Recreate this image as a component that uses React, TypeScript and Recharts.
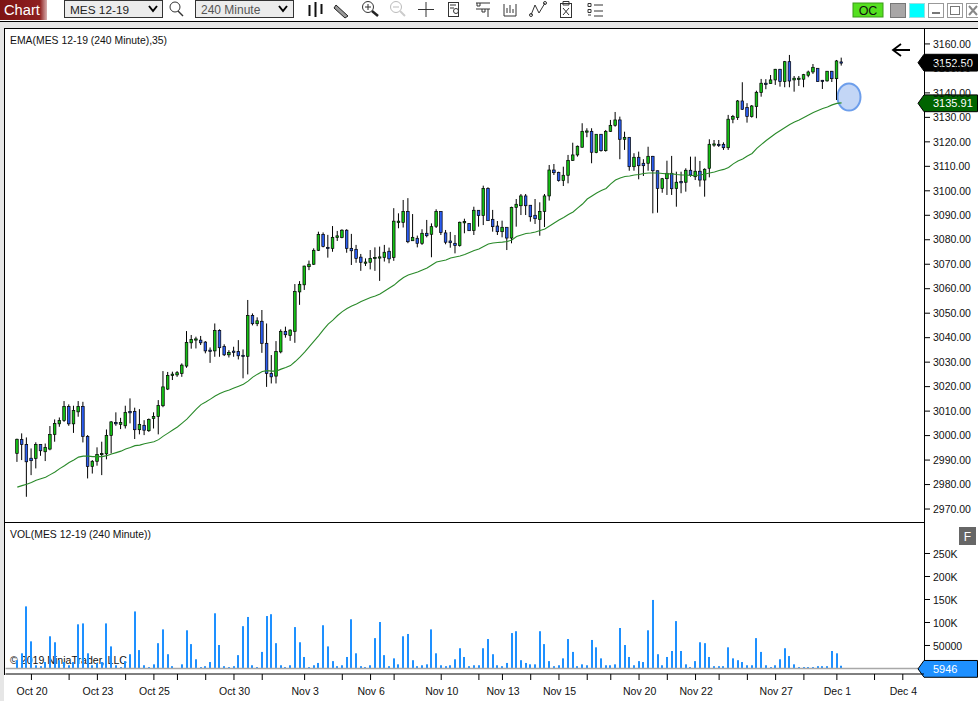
import React from "react";
import { ComposedChart, Bar, Line, XAxis, YAxis, ReferenceLine } from "recharts";

const highs = [
2998.75,3000.9,2999.25,2994.75,2997.25,2996.4,2996.75,3003.9,3006.6,3007.4,
3014.1,3012.75,3012.2,3014.1,3013.8,3000.2,2990,2995.2,2997.5,3002.5,
3005.9,3009.5,3007.25,3012.2,3015.2,3011.4,3010.8,3006.3,3007,3009.5,
3014.5,3026.35,3026,3026.1,3026.35,3029.5,3042.7,3041.1,3040.4,3040.7,
3038.6,3036,3045.8,3043.4,3037.3,3034.9,3036.3,3039,3035.2,3055.4,
3049.9,3048.3,3051.3,3045.8,3032.9,3038.6,3043.4,3044.5,3043.4,3061.9,
3063.1,3069.4,3071.5,3076.5,3083.3,3083,3082,3085.6,3083.6,3084.3,
3084.3,3082.4,3077.9,3074.2,3072.4,3075.8,3076.9,3077.2,3077.9,3076.8,
3092.9,3090.8,3096.25,3097,3090.5,3081.7,3084.3,3088.1,3086.7,3092.45,
3091.6,3084,3083.2,3081.95,3087.4,3088.6,3086.7,3093.5,3092.05,3102.1,
3101.45,3092.2,3087.65,3087.8,3085.1,3093.5,3096.65,3098.7,3098.7,3094.1,
3096.65,3095.3,3098.7,3110.55,3110.95,3107.8,3109.85,3114.65,3119.65,3118.5,
3127.6,3125.55,3125.55,3123.1,3123.1,3124.85,3128.95,3132.2,3130.3,3124.15,
3121.85,3115.35,3116,3112.9,3118,3114.25,3108.2,3105.25,3112.3,3114.25,
3107.8,3107.8,3109.2,3113.95,3113.95,3112.2,3109.2,3121.05,3120.75,3120.75,
3119.8,3131,3131,3137.1,3144.35,3135.8,3135.05,3140.9,3145.7,3145.6,
3147.3,3149.8,3149.8,3153.05,3155.5,3146.9,3146.9,3147.75,3149.1,3151.8,
3150.05,3145.3,3148.95,3148.95,3153.45,3154.4];

const lows = [
2989.25,2990,2975,2983.85,2986.6,2991.75,2989.6,2994,2997.5,3003.6,
3005.6,3004,3001.1,3007.7,2997.2,2982.5,2984.5,2987.7,2983.85,2990.3,
2992.7,3004,3002.65,3002.9,3005,2998.6,3000.5,3000.2,3001.5,3002.9,
3000.5,3011.6,3018.6,3022.7,3024,3024,3027.7,3035.5,3035.6,3037,
3033.6,3029.7,3032.2,3032.2,3032.5,3031.9,3032.2,3031.1,3023.4,3025,
3045,3044.7,3033.8,3019.9,3021.3,3021.3,3033.6,3040,3038.7,3037.9,
3053.4,3059.5,3067.6,3069.7,3075.4,3076.9,3072.7,3075.1,3079.5,3080.6,
3074.7,3069.7,3070.6,3067.3,3069.3,3067.9,3067.3,3063.2,3071.1,3070.4,
3071.4,3084.7,3085,3078.6,3079.6,3076.9,3077.9,3081,3072.85,3084.8,
3081.95,3078.15,3076.75,3074.45,3077.2,3082.65,3083.6,3081.95,3085.35,3086,
3087.8,3083.3,3081.95,3081,3075.8,3078.55,3085.35,3090.1,3090.1,3087.4,
3086.45,3081.65,3085.2,3096,3106.45,3103.75,3101.95,3103.05,3112.2,3113.95,
3117.65,3121.9,3111.25,3115.35,3116,3116,3124.05,3126.2,3112.9,3116.7,
3108.2,3108.2,3104.7,3106.05,3108.2,3090.8,3091.05,3099.2,3098.3,3098.3,
3093.5,3099,3099.65,3105.75,3104.4,3101.7,3097.6,3105.5,3118,3117.9,
3116.7,3116.7,3127.6,3128.95,3133.05,3127.85,3129.9,3129.65,3138.45,3141.5,
3143.8,3143.25,3142.55,3142.3,3142.3,3140.5,3142.85,3142.3,3146.4,3147.75,
3144.6,3141.6,3144.6,3144.45,3137.1,3151.15];

const opens = [
2992.75,2998.4,2996.4,2990.75,2990.7,2996.4,2993.4,2994.5,3000.5,3004.8,
3006.2,3011.9,3004.8,3009.7,3011.9,2999.7,2987.4,2989.5,2992.4,2992.55,
3000.1,3005.4,3004.6,3004,3009.9,3009.9,3002.4,3004.2,3002,3007,
3007.8,3012.2,3019,3024.6,3024.8,3025.4,3028.4,3037.9,3039.3,3039,
3038.2,3034.9,3034.6,3043,3036.4,3033,3034.5,3034.4,3032.8,3032.4,
3049.1,3045.7,3046.7,3037.7,3025.4,3024.3,3034.2,3042.6,3040.9,3042.6,
3058.7,3061.6,3069,3070,3075.7,3082.2,3076.9,3076.5,3080.9,3080.9,
3083.9,3076.5,3076.1,3072.9,3070.5,3070.8,3072.3,3072.7,3072.7,3075.3,
3072.8,3087,3087.1,3091.6,3079.6,3080.6,3078.55,3082.65,3082.25,3085.5,
3091.6,3082.8,3079.5,3078.55,3077.6,3087,3086.7,3083.85,3092.05,3089.85,
3101,3088.35,3085.6,3083.3,3085.1,3080.7,3093.25,3093.9,3097.9,3094.1,
3090,3088.35,3091.6,3097.9,3108.5,3107.55,3104.15,3106.35,3112.45,3114.65,
3117.8,3124.05,3124.3,3115.6,3123.1,3116.4,3124.3,3126.75,3128.95,3121.05,
3121.85,3109.85,3113.7,3111.25,3111.25,3114.1,3108.2,3101,3104.95,3107.15,
3101,3103.75,3103.5,3108.4,3105.75,3108,3104.4,3109.2,3118.75,3119,
3119,3117.6,3129.25,3129.9,3136.7,3134,3130.3,3134.4,3140.1,3143.95,
3143.8,3145.3,3149.65,3144.6,3152.75,3145.3,3145.6,3145.6,3147.2,3148.55,
3150.05,3145.15,3144.9,3148.85,3145.8,3152.65];

const closes = [
2998.5,2996.4,2989.3,2989.75,2996.4,2993.8,2995.2,3000.5,3005,3006.2,
3011.9,3004.8,3010.3,3011.9,2999.7,2987.4,2989.5,2992.3,2992.7,3000.1,
3005.6,3004.8,3005.4,3009.5,3009.3,3002.4,3004.6,3002.2,3006.6,3007.8,
3012.3,3019.9,3024.6,3025.1,3025.7,3028.8,3038.1,3039.3,3039.5,3037.9,
3034.6,3034.5,3043,3035.9,3033,3034,3034.2,3032.6,3032.4,3049.1,
3045.7,3046.9,3037.7,3025.4,3024,3034.4,3042.6,3041.2,3043.1,3058.9,
3061.8,3069.25,3070,3075.7,3082.2,3077.3,3076.4,3081,3081.6,3083.9,
3076.5,3075.5,3072.4,3070.8,3070.9,3072.4,3072.8,3073,3074.9,3072.2,
3087.6,3087.6,3091.6,3079.2,3081,3078.55,3082.65,3081.65,3085.35,3091.6,
3083,3079,3078.8,3077.6,3087.15,3087.4,3083.7,3092.05,3089.85,3101,
3087.8,3085.35,3083.3,3085.1,3080.7,3093.25,3094.5,3097.9,3093.9,3089.4,
3088.6,3091.6,3097.9,3108.5,3107.4,3104.15,3106.35,3112.45,3114.65,3118.2,
3124.3,3124.45,3115.75,3123.1,3116.4,3124.3,3126.75,3128.95,3121.05,3121.85,
3109.85,3113.7,3110.25,3110.25,3114.1,3108.2,3101,3104.95,3107.15,3100.85,
3103.5,3103.3,3108.4,3106.45,3108,3104.4,3108.8,3119,3119.15,3118.45,
3117.6,3129.25,3130.3,3136.7,3133.3,3130.3,3134.65,3140.25,3143.95,3143.55,
3145.3,3149.65,3144.6,3152.75,3144.85,3146,3146,3147.45,3148.55,3150.45,
3144.6,3144.75,3148.85,3145.8,3153.05,3152.5];

const emaValues = [
2978.95,2979.55,2980.15,2980.8,2981.8,2982.4,2983,2984.05,2985.1,2986.5,
2987.7,2989,2990,2991.2,2991.6,2991.6,2991.4,2991.4,2991.4,2991.8,
2992.45,2993.05,2993.65,2994.5,2995.1,2995.9,2996.1,2996.7,2997.1,2997.5,
2998.35,2999.8,3001,3002.25,3003.5,3005.1,3006.75,3008.8,3010.8,3012.65,
3013.7,3014.9,3016.15,3017.15,3018,3018.6,3019.4,3020.2,3021,3022.25,
3023.9,3025.1,3026.15,3026.55,3026.35,3026.35,3027.15,3027.8,3028.6,3030.25,
3032.05,3034.1,3036.35,3038.6,3040.85,3043.3,3045.55,3047.2,3049.05,3050.65,
3051.9,3052.9,3053.75,3054.75,3055.6,3056.4,3057,3057.85,3059.05,3060.3,
3061.5,3063.15,3064.6,3065.6,3066.2,3066.8,3067.65,3068.45,3069.7,3070.9,
3071.3,3071.7,3072.55,3072.95,3073.35,3073.95,3074.8,3075.6,3076.2,3077.25,
3078.25,3078.65,3078.85,3079.05,3079.3,3079.9,3081.3,3081.95,3082.55,3082.75,
3083.15,3083.8,3084.4,3085.6,3086.85,3088.1,3089.1,3090.3,3091.35,3093,
3094.6,3096.65,3097.9,3099.1,3100.1,3100.95,3102.8,3104.4,3105.25,3105.85,
3106.05,3106.45,3106.65,3107.1,3107.3,3107.3,3107.3,3107.1,3106.9,3106.9,
3106.65,3106.45,3106.45,3106.25,3106.25,3106.45,3106.9,3107.3,3107.7,3108.3,
3108.75,3109.55,3111,3112.2,3113,3114.25,3115.25,3117.3,3118.95,3120.55,
3122,3123.4,3124.65,3125.85,3127.1,3128.1,3128.95,3129.95,3131,3132,
3132.85,3133.65,3134.25,3135.1,3135.7,3135.91];

const volumes = [
18000,33000,135000,59000,7000,5000,14000,70000,57000,18000,
14000,7000,14000,96000,98000,33000,7000,12000,14000,98000,
48000,7000,3000,16000,31000,124000,40000,7000,3000,9000,
55000,85000,31000,5000,1000,9000,83000,53000,20000,3000,
5000,14000,120000,51000,5000,3000,5000,29000,92000,112000,
7000,3000,36000,114000,118000,55000,7000,3000,7000,90000,
57000,25000,3000,7000,12000,94000,48000,16000,5000,7000,
25000,107000,33000,5000,3000,7000,66000,101000,29000,5000,
22000,9000,70000,75000,18000,5000,7000,9000,85000,33000,
7000,5000,7000,20000,44000,25000,5000,7000,7000,44000,
64000,31000,7000,5000,12000,77000,81000,18000,12000,9000,
9000,81000,53000,16000,5000,7000,22000,64000,36000,5000,
9000,7000,62000,46000,22000,7000,7000,9000,88000,51000,
25000,7000,16000,14000,83000,149000,31000,7000,25000,38000,
103000,38000,9000,3000,16000,57000,55000,25000,5000,5000,
5000,46000,22000,18000,14000,7000,7000,66000,36000,7000,
3000,7000,20000,44000,27000,9000,3000,3000,3000,3000,
5000,5000,5000,38000,33000,5946];

const priceTicks = [2970,2980,2990,3000,3010,3020,3030,3040,3050,3060,3070,3080,3090,3100,3110,3120,3130,3140,3150,3160];
const volumeTicks = [50000,100000,150000,200000,250000];
const volumeTickLabels = ["50000","100K","150K","200K","250K"];
// position on the time axis -> text (empty text = minor mark)
const timeTickSlots = [5,13,19,25,31,36,42,48,54,63,71,77,82,92,100,105,111,117,123,128,134,140,146,151,157,163,169,176,184,190];
const timeTickLabels = ["Oct 20","","Oct 23","","Oct 25","","","Oct 30","","Nov 3","","Nov 6","","Nov 10","","Nov 13","","Nov 15","","","Nov 20","","Nov 22","","","Nov 27","","Dec 1","","Dec 4"];

const LEAD = 2;
const TRAIL = 17;
const rows = Array.from({ length: LEAD + highs.length + TRAIL }, (_, slot) => {
  const i = slot - LEAD;
  if (i < 0 || i >= highs.length) return { slot };
  return {
    slot,
    open: opens[i],
    high: highs[i],
    low: lows[i],
    close: closes[i],
    range: [lows[i], highs[i]],
    ema: emaValues[i],
    vol: volumes[i],
  };
});

const FONT = '"Liberation Sans", Arial, sans-serif';
const GREEN = "#14c014";
const BLUE = "#2a5cf0";
const VOL = "#1e90ff";
const PLOT_LEFT = 5.53;
const AXIS_W = 54;

function Candle(props: any) {
  const { x, y, width, height, payload } = props;
  if (!payload || payload.high == null || !height) return null;
  const { open, close, high, low } = payload;
  const c = x + width / 2;
  const perUnit = height / (high - low);
  const top = y + (high - Math.max(open, close)) * perUnit;
  const bot = y + (high - Math.min(open, close)) * perUnit;
  return (
    <g>
      <line x1={c} x2={c} y1={y} y2={y + height} stroke="#000" strokeWidth={1} />
      <rect
        x={c - 1.3}
        y={top}
        width={2.6}
        height={Math.max(bot - top, 1.2)}
        fill={close >= open ? GREEN : BLUE}
        stroke="#000"
        strokeWidth={0.7}
      />
    </g>
  );
}

function VolumeBar(props: any) {
  const { x, y, height, fill } = props;
  if (!height || height <= 0) return null;
  return <rect x={Math.round(x)} y={y} width={2} height={height} fill={fill} />;
}

function Flag(props: any) {
  const { viewBox, text, fill } = props;
  const y = viewBox.y + 0.4;
  const h = 8.4;
  return (
    <g>
      <polygon
        points={`918,${y} 924,${y - h} 977.5,${y - h} 977.5,${y + h} 924,${y + h}`}
        fill={fill}
        stroke="#000"
        strokeWidth={1}
      />
      <text x={933} y={y + 4} fontSize={11} fontFamily={FONT} fill="#fff">
        {text}
      </text>
    </g>
  );
}

function Chrome() {
  const s = { stroke: "#333", strokeWidth: 1, fill: "none" };
  return (
    <svg width={978} height={701} style={{ position: "absolute", left: 0, top: 0 }}>
      <defs>
        <linearGradient id="chartBtn" x1="0" x2="1" y1="0" y2="0">
          <stop offset="0" stopColor="#7d1414" />
          <stop offset="0.85" stopColor="#8e2020" />
          <stop offset="1" stopColor="#d9b0b0" />
        </linearGradient>
      </defs>
      {/* gutters */}
      <rect x={0} y={22} width={978} height={6} fill="#e6e6e6" />
      <rect x={0} y={22} width={4} height={679} fill="#e6e6e6" />
      <line x1={0} x2={978} y1={21.5} y2={21.5} stroke="#000" />
      <line x1={4} x2={978} y1={28.5} y2={28.5} stroke="#000" />
      <line x1={4.5} x2={4.5} y1={28} y2={675} stroke="#000" />
      <line x1={4} x2={925} y1={522.5} y2={522.5} stroke="#000" />
      <line x1={924.5} x2={924.5} y1={28} y2={675} stroke="#000" />

      {/* title button */}
      <rect x={0} y={0} width={47} height={20} fill="url(#chartBtn)" />
      <text x={4} y={15} fontSize={14.7} fontFamily={FONT} fill="#fff">Chart</text>

      {/* dropdowns */}
      <rect x={64.5} y={0.5} width={98} height={17} fill="#ececec" stroke="#333" />
      <text x={70} y={13.5} fontSize={11.8} fontFamily={FONT} fill="#222">MES 12-19</text>
      <path d="M149 6 L153 11 L157 6" fill="none" stroke="#000" strokeWidth={2} />
      <rect x={195.5} y={0.5} width={98} height={17} fill="#ececec" stroke="#333" />
      <text x={201} y={13.5} fontSize={12} fontFamily={FONT} fill="#555">240 Minute</text>
      <path d="M279 6 L283 11 L287 6" fill="none" stroke="#000" strokeWidth={2} />

      {/* toolbar icons */}
      <circle cx={175} cy={7} r={5} {...s} />
      <line x1={178} y1={11} x2={183} y2={16} stroke="#333" strokeWidth={1.4} />
      <g stroke="#111" strokeWidth={2}>
        <line x1={309.5} x2={309.5} y1={5} y2={16} />
        <line x1={315.5} x2={315.5} y1={2} y2={17} />
        <line x1={321.5} x2={321.5} y1={4} y2={14} />
      </g>
      <path d="M336 5 L348 16 L345 18 L334 8 Z" fill="#999" stroke="#222" />
      <circle cx={368} cy={7} r={5.5} {...s} />
      <path d="M365 7 H371 M368 4 V10" stroke="#333" />
      <line x1={372} y1={11} x2={378} y2={16} stroke="#222" strokeWidth={2.5} />
      <circle cx={396} cy={7} r={5.5} fill="none" stroke="#bbb" />
      <path d="M393 7 H399" stroke="#bbb" />
      <line x1={400} y1={11} x2={405} y2={16} stroke="#ccc" strokeWidth={2} />
      <path d="M426 2 V17 M418 9.5 H434" stroke="#333" />
      <rect x={448.5} y={2.5} width={10} height={14} {...s} />
      <circle cx={456} cy={11} r={2.5} {...s} />
      <path d="M450 5 H456 M450 8 H454" stroke="#333" />
      <path d="M476 3 H490 M476 9 H490 M477 3 V6 H480 V3 M482 9 V12 H485 V9 M488 9 V17" {...s} />
      <path d="M504 4 V16 H516 V4 M507 13 V8 M510 13 V5 M513 13 V9" {...s} />
      <path d="M531 15 L535 5 L539 13 L545 3" {...s} />
      <circle cx={531} cy={15} r={1.5} {...s} />
      <circle cx={545} cy={3} r={1.5} {...s} />
      <rect x={560.5} y={3.5} width={11} height={14} {...s} />
      <path d="M563 1.5 H569 V5 H563 Z M563 8 L569 15 M569 8 L563 15" {...s} />
      <path d="M588 3.5 h3 v3 h-3 z M588 9.5 h3 v3 h-3 z M588 15 h3 M594 5 H603 M594 11 H603 M594 16 H603" {...s} />

      {/* right toolbar */}
      <rect x={853} y={3} width={30} height={14} fill="#55e020" stroke="#3b9a18" />
      <text x={868} y={14.5} textAnchor="middle" fontSize={12.5} fontFamily={FONT} fill="#111">OC</text>
      <rect x={890.5} y={3.5} width={15} height={14} fill="#a8a6a6" stroke="#777" />
      <rect x={909.5} y={3.5} width={15} height={14} fill="#00ffff" stroke="#9adfe0" />
      <rect x={928.5} y={3.5} width={15} height={14} fill="#fff" stroke="#999" />
      <line x1={932} x2={940} y1={13} y2={13} stroke="#777" strokeWidth={2} />
      <rect x={947.5} y={3.5} width={15} height={14} fill="#fff" stroke="#999" />
      <rect x={950.5} y={6.5} width={9} height={8} fill="none" stroke="#777" />
      <rect x={966.5} y={3.5} width={12} height={14} fill="#fff" stroke="#999" />
      <path d="M969 6 L977 15 M977 6 L969 15" stroke="#888" strokeWidth={2} />

      {/* pane texts */}
      <text x={10} y={44} fontSize={10.4} fontFamily={FONT} fill="#111">EMA(MES 12-19 (240 Minute),35)</text>
      <text x={10} y={538} fontSize={10.4} fontFamily={FONT} fill="#111">VOL(MES 12-19 (240 Minute))</text>
      <text x={10} y={664} fontSize={10.6} fontFamily={FONT} fill="#111">© 2019 NinjaTrader, LLC</text>

      {/* drawn annotations */}
      <path d="M893 50 H910 M901 44 L893 50 L901 56" fill="none" stroke="#000" strokeWidth={1.8} />
      <ellipse cx={849} cy={97} rx={11.5} ry={13.5} fill="#c3d6f6" stroke="#6d9eeb" strokeWidth={2} />

      {/* F button */}
      <rect x={959} y={527} width={17} height={18} fill="#666" />
      <text x={967.5} y={540.5} textAnchor="middle" fontSize={12} fontFamily={FONT} fill="#fff">F</text>
    </svg>
  );
}

export default function App() {
  const axisTick = { fontSize: 10.5, fontFamily: FONT, fill: "#111" };
  return (
    <div style={{ position: "absolute", left: 0, top: 0, width: 978, height: 701, background: "#fff", overflow: "hidden" }}>
      <Chrome />
      <div style={{ position: "absolute", left: 0, top: 0 }}>
        <ComposedChart
          width={978}
          height={523}
          data={rows}
          margin={{ top: 29, right: 0, bottom: 1, left: PLOT_LEFT }}
          barCategoryGap={0}
        >
          <XAxis dataKey="slot" hide />
          <YAxis
            orientation="right"
            width={AXIS_W}
            domain={[2964.7, 3166.1]}
            ticks={priceTicks}
            interval={0}
            axisLine={false}
            tickSize={6}
            tickMargin={3}
            tick={axisTick}
            tickLine={{ stroke: "#000" }}
            tickFormatter={(v: number) => v.toFixed(2)}
            allowDataOverflow
          />
          <Bar dataKey="range" barSize={4} shape={<Candle />} isAnimationActive={false} />
          <Line dataKey="ema" stroke="#2a8a2a" strokeWidth={1.1} dot={false} isAnimationActive={false} />
          <ReferenceLine y={closes[closes.length - 1]} stroke="none" label={<Flag text="3152.50" fill="#000" />} />
          <ReferenceLine y={emaValues[emaValues.length - 1]} stroke="none" label={<Flag text="3135.91" fill="#006400" />} />
        </ComposedChart>
      </div>
      <div style={{ position: "absolute", left: 0, top: 523 }}>
        <ComposedChart
          width={978}
          height={178}
          data={rows}
          margin={{ top: 0, right: 0, bottom: 0, left: PLOT_LEFT }}
          barCategoryGap={0}
        >
          <XAxis
            dataKey="slot"
            height={27}
            ticks={timeTickSlots}
            interval={0}
            axisLine={{ stroke: "#000" }}
            tickLine={{ stroke: "#000" }}
            tickSize={6}
            tickMargin={8}
            tick={{ ...axisTick, dx: 0.6 }}
            tickFormatter={(v: number) => timeTickLabels[timeTickSlots.indexOf(v)] ?? ""}
          />
          <YAxis
            orientation="right"
            width={AXIS_W}
            domain={[-12000, 316300]}
            ticks={volumeTicks}
            interval={0}
            axisLine={false}
            tickSize={6}
            tickMargin={3}
            tick={{ ...axisTick, dy: 0.8 }}
            tickLine={{ stroke: "#000" }}
            tickFormatter={(v: number) => volumeTickLabels[volumeTicks.indexOf(v)] ?? ""}
            allowDataOverflow
          />
          <ReferenceLine y={0} stroke="#a8a8a8" strokeWidth={1.4} />
          <Bar dataKey="vol" barSize={2} fill={VOL} shape={<VolumeBar />} isAnimationActive={false} />
          <ReferenceLine y={0} stroke="none" label={<Flag text="5946" fill={VOL} />} />
        </ComposedChart>
      </div>
    </div>
  );
}
